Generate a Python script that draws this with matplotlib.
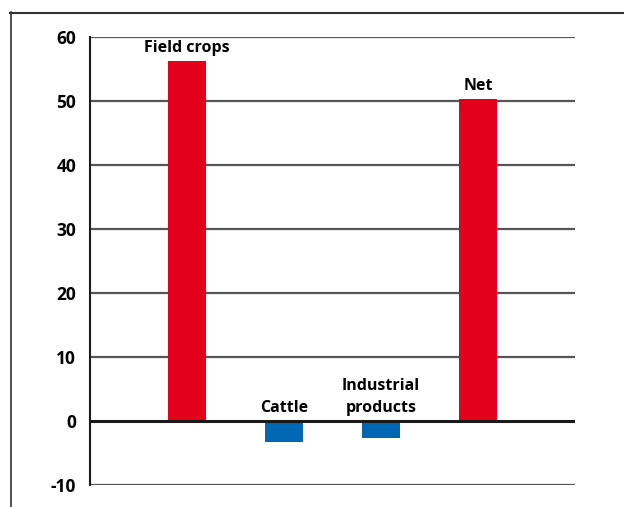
import matplotlib.pyplot as plt
from matplotlib.lines import Line2D

# values read per category
categories = ["Field crops", "Cattle", "Industrial\nproducts", "Net"]
values = [56.2, -3.3, -2.7, 50.3]
colors = ["#e2001a", "#0068b3", "#0068b3", "#e2001a"]
yticks = [-10, 0, 10, 20, 30, 40, 50, 60]

plt.rcParams["font.family"] = ["Open Sans", "DejaVu Sans"]
plt.rcParams["font.weight"] = "bold"
plt.rcParams["axes.unicode_minus"] = False

fig = plt.figure(figsize=(6.24, 5.07), dpi=100)
ax = fig.add_axes([90 / 624, 1 - 485 / 507, 485 / 624, 448 / 507])

# frame lines around the whole figure (top and left only)
fig.add_artist(Line2D([10 / 624, 1], [1 - 12.5 / 507] * 2, color="#333333", lw=1.5))
fig.add_artist(Line2D([10.5 / 624] * 2, [0, 1 - 12 / 507], color="#333333", lw=1.2))

x = range(1, len(categories) + 1)
for yt in yticks:
    if yt == 0:
        ax.axhline(yt, color="#1a1a1a", lw=2.2, zorder=3)
    else:
        ax.axhline(yt, color="#555555", lw=1.6, zorder=0)

ax.bar(x, values, width=0.39, color=colors, zorder=2)

for xi, v, name in zip(x, values, categories):
    y = max(v, 0) + 0.8
    ax.text(xi, y, name, ha="center", va="bottom", fontsize=11.5,
            fontweight="bold", linespacing=1.45)

ax.set_xlim(0, 5)
ax.set_ylim(-10, 60)
ax.set_yticks(yticks)
ax.set_xticks([])
ax.tick_params(axis="y", length=0, pad=10, labelsize=12.5)
for s in ["top", "right", "bottom"]:
    ax.spines[s].set_visible(False)
ax.spines["left"].set_color("#1a1a1a")
ax.spines["left"].set_linewidth(1.5)

fig.savefig("out.png", dpi=100)
